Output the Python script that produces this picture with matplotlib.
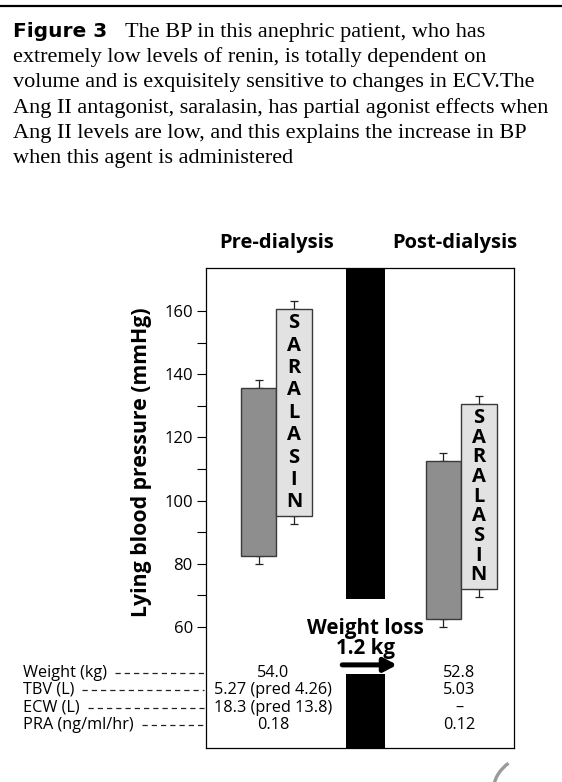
import matplotlib
matplotlib.use("Agg")
import matplotlib.pyplot as plt
from matplotlib.lines import Line2D
from matplotlib.patches import Arc
import numpy as np

# --- data ---
conditions = ["Pre-dialysis", "Post-dialysis"]
bp_low = [82.5, 62.5]          # baseline BP bar (bottom / top)
bp_high = [135.5, 112.5]
bp_err_low = [80.0, 60.0]
bp_err_high = [138.0, 115.0]
sar_low = [95.0, 72.0]         # BP during saralasin
sar_high = [160.5, 130.5]
sar_err_low = [92.5, 69.5]
sar_err_high = [163.0, 133.0]
sar_word = "SARALASIN"
dialysis_gap = [45.0, 69.0]    # black dialysis bar is broken between these values
weight_loss_lines = ["Weight loss", "1.2 kg"]

yticks_major = [60, 80, 100, 120, 140, 160]
yticks_minor = [70, 90, 110, 130, 150]

row_labels = ["Weight (kg)", "TBV (L)", "ECW (L)", "PRA (ng/ml/hr)"]
pre_values = ["54.0", "5.27 (pred 4.26)", "18.3 (pred 13.8)", "0.18"]
post_values = ["52.8", "5.03", "\u2013", "0.12"]

caption_head = "Figure 3"
caption_lines = [
    "The BP in this anephric patient, who has",
    "extremely low levels of renin, is totally dependent on",
    "volume and is exquisitely sensitive to changes in ECV.The",
    "Ang II antagonist, saralasin, has partial agonist effects when",
    "Ang II levels are low, and this explains the increase in BP",
    "when this agent is administered",
]

# --- layout (pixels of the 562x782 page) ---
W, H = 562, 782


def fx(px):
    return px / W


def fy(py):
    return 1 - py / H


plt.rcParams['font.family'] = ['Open Sans', 'DejaVu Sans']

fig = plt.figure(figsize=(W / 100, H / 100), dpi=100)
fig.patch.set_facecolor('white')

# caption above the chart
fig.add_artist(Line2D([0, 1], [fy(6), fy(6)], transform=fig.transFigure, color='black', lw=1.6))
fig.text(fx(13), fy(37), caption_head, family='DejaVu Sans', weight='bold', size=14.5, va='baseline')
for i, line in enumerate(caption_lines):
    x0 = 125 if i == 0 else 13
    fig.text(fx(x0), fy(37 + 25.2 * i), line, family='Liberation Serif', size=16, va='baseline')

ax = fig.add_axes([fx(206), fy(748), fx(514) - fx(206), (748 - 268) / H])
ax.set_xlim(0, 8.5)
ax.set_ylim(21.7, 173.6)

group_x = np.array([1.94, 7.04])
bw = 0.98
edge = '#3a3a3a'

for i in range(len(conditions)):
    xb = group_x[i] - bw / 2
    xs = group_x[i] + bw / 2
    ax.bar(xb, bp_high[i] - bp_low[i], bottom=bp_low[i], width=bw,
           color='#8e8e8e', edgecolor=edge, lw=1.0, zorder=3)
    ax.bar(xs, sar_high[i] - sar_low[i], bottom=sar_low[i], width=bw,
           color='#e2e2e2', edgecolor=edge, lw=1.0, zorder=3)
    # only the outer half of each error bar shows
    for xc, lo, hi, elo, ehi in [(xb, bp_low[i], bp_high[i], bp_err_low[i], bp_err_high[i]),
                                 (xs, sar_low[i], sar_high[i], sar_err_low[i], sar_err_high[i])]:
        ax.errorbar([xc], [hi], yerr=[[0], [ehi - hi]], fmt='none', ecolor='#222222',
                    elinewidth=0.9, capsize=3, capthick=0.9, zorder=2)
        ax.errorbar([xc], [lo], yerr=[[lo - elo], [0]], fmt='none', ecolor='#222222',
                    elinewidth=0.9, capsize=3, capthick=0.9, zorder=2)
    ys = np.linspace(sar_high[i] - 4.4, sar_low[i] + 4.4, len(sar_word))
    for ch, yy in zip(sar_word, ys):
        ax.text(xs, yy, ch, ha='center', va='center', weight='bold', size=14.5, zorder=4)
    fig.text(fx(206) + (fx(514) - fx(206)) * (group_x[i] - (0.0 if i == 0 else 0.16)) / 8.5,
             fy(248), conditions[i], ha='center', va='baseline', weight='bold', size=14.5)

# black dialysis bar, broken by the weight loss note
black_x = 4.41
ylo, yhi = ax.get_ylim()
ax.bar(black_x, yhi - dialysis_gap[1], bottom=dialysis_gap[1], width=1.08, color='black', zorder=3)
ax.bar(black_x, dialysis_gap[0] - ylo, bottom=ylo, width=1.08, color='black', zorder=3)
ax.text(black_x, 57.8, weight_loss_lines[0], ha='center', va='baseline', weight='bold', size=14.8, zorder=5)
ax.text(black_x, 51.5, weight_loss_lines[1], ha='center', va='baseline', weight='bold', size=14.8, zorder=5)
ax.annotate('', xy=(5.27, 48.0), xytext=(3.76, 48.0),
            arrowprops=dict(arrowstyle='-|>,head_length=0.75,head_width=0.4', lw=3.6, color='black',
                            shrinkA=0, shrinkB=0), zorder=5)

ax.set_yticks(yticks_major)
ax.set_yticks(yticks_minor, minor=True)
ax.set_xticks([])
ax.tick_params(axis='y', which='both', direction='out', length=6.5, width=0.8, labelsize=12, pad=3)
for s in ax.spines.values():
    s.set_linewidth(0.9)
ax.set_ylabel("Lying blood pressure (mmHg)", weight='bold', size=15.3)
ax.yaxis.set_label_coords(-0.175, 0.596)

# table of patient measurements under the bars
row_y = [673, 690, 708, 725]
fig.canvas.draw()
for lab, pv, qv, yy in zip(row_labels, pre_values, post_values, row_y):
    t = fig.text(fx(23), fy(yy), lab, ha='left', va='center', size=11.7)
    bb = t.get_window_extent(renderer=fig.canvas.get_renderer())
    fig.add_artist(Line2D([fx(bb.x1 + 8), fx(204)], [fy(yy), fy(yy)], transform=fig.transFigure,
                          color='#222222', lw=0.9, ls=(0, (4.2, 3.2))))
    fig.text(fx(273), fy(yy), pv, ha='center', va='center', size=11.7)
    fig.text(fx(459), fy(yy), qv, ha='center', va='center', size=11.7)

# page-corner mark
fig.add_artist(Arc((5.30, -0.12), 0.75, 0.75, theta1=125, theta2=170, transform=fig.dpi_scale_trans,
                   color='#9a9a9a', lw=2.4))

fig.savefig('out.png', dpi=100)
